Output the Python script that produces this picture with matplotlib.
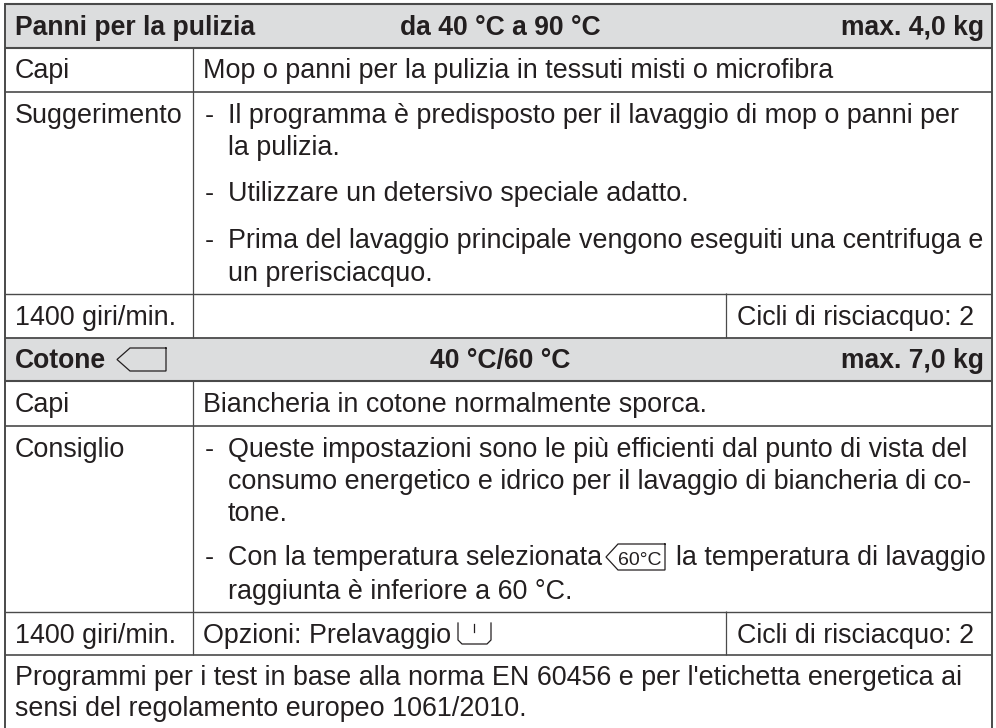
import matplotlib
matplotlib.use('Agg')
import matplotlib.pyplot as plt
from matplotlib.patches import Rectangle

W, H = 996, 728
TX = 15
TC1 = 203
TC2 = 228

# testi della tabella: (y baseline, testo)
header_rows = [
    (35, 'Panni per la pulizia', 'da 40 °C a 90 °C', 'max. 4,0 kg'),
    (368, 'Cotone', '40 °C/60 °C', 'max. 7,0 kg'),
]
body_left = [
    (78, 'Capi'), (123, 'Suggerimento'), (325, '1400 giri/min.'),
    (412, 'Capi'), (457, 'Consiglio'), (643, '1400 giri/min.'),
]
body_dash = [123, 201, 248, 457, 565]
body_right = [
    (TC1, 78, 'Mop o panni per la pulizia in tessuti misti o microfibra'),
    (TC2, 123, 'Il programma è predisposto per il lavaggio di mop o panni per'),
    (TC2, 155, 'la pulizia.'),
    (TC2, 201, 'Utilizzare un detersivo speciale adatto.'),
    (TC2, 248, 'Prima del lavaggio principale vengono eseguiti una centrifuga e'),
    (TC2, 281, 'un prerisciacquo.'),
    (TC1, 412, 'Biancheria in cotone normalmente sporca.'),
    (TC2, 457, 'Queste impostazioni sono le più efficienti dal punto di vista del'),
    (TC2, 489, 'consumo energetico e idrico per il lavaggio di biancheria di co-'),
    (TC2, 521, 'tone.'),
    (TC2, 565, 'Con la temperatura selezionata'),
    (676, 565, 'la temperatura di lavaggio'),
    (TC2, 599, 'raggiunta è inferiore a 60 °C.'),
    (TC1, 643, 'Opzioni: Prelavaggio'),
    (TX, 685, "Programmi per i test in base alla norma EN 60456 e per l'etichetta energetica ai"),
    (TX, 716, 'sensi del regolamento europeo 1061/2010.'),
]
cicli = [(325, 'Cicli di risciacquo: 2'), (643, 'Cicli di risciacquo: 2')]

plt.rcParams['font.family'] = ['Liberation Sans', 'DejaVu Sans']
fig = plt.figure(figsize=(W / 100, H / 100), dpi=100)
ax = fig.add_axes([0, 0, 1, 1])
ax.set_xlim(0, W)
ax.set_ylim(H, 0)
ax.axis('off')

LINE = '#4a4a4a'
ink = '#231f20'
FS = 19.4
FSB = 19.1

# sfondi delle intestazioni
ax.add_patch(Rectangle((5, 3.5), 987, 44, fc='#dcddde', ec='none'))
ax.add_patch(Rectangle((5, 338), 987, 43, fc='#dcddde', ec='none'))

# righe orizzontali e verticali
for y, lw in [(3.5, 1.5), (47.5, 1.5), (91.5, 1.2), (293.5, 1.0), (338, 1.3), (381, 1.5),
              (426, 1.2), (611.5, 1.0), (655, 1.2)]:
    ax.plot([5, 992], [y, y], color=LINE, lw=lw, solid_capstyle='butt')
for x in [5, 992]:
    ax.plot([x, x], [3, 728], color=LINE, lw=1.4, solid_capstyle='butt')
for y0, y1 in [(47, 338), (381, 655)]:
    ax.plot([192.5, 192.5], [y0, y1], color=LINE, lw=0.9, solid_capstyle='butt')
for y0, y1 in [(293, 338), (611, 655)]:
    ax.plot([725.5, 725.5], [y0, y1], color=LINE, lw=0.9, solid_capstyle='butt')

for y, a, b, c in header_rows:
    ax.text(TX, y, a, fontsize=FSB, fontweight='bold', color=ink, va='baseline')
    ax.text(500, y, b, fontsize=FSB, fontweight='bold', color=ink, va='baseline', ha='center')
    ax.text(984, y, c, fontsize=FSB, fontweight='bold', color=ink, va='baseline', ha='right')
for y, s in body_left:
    ax.text(TX, y, s, fontsize=FS, color=ink, va='baseline')
for y in body_dash:
    ax.text(205, y, '-', fontsize=FS, color=ink, va='baseline')
for x, y, s in body_right:
    ax.text(x, y, s, fontsize=FS, color=ink, va='baseline')
for y, s in cicli:
    ax.text(737, y, s, fontsize=FS, color=ink, va='baseline')

# simboli disegnati
def tag(x0, y0, x1, y1, notch):
    ax.plot([x1, x0 + notch, x0, x0 + notch, x1, x1], [y0, y0, (y0 + y1) / 2, y1, y1, y0],
            color=ink, lw=0.9, solid_joinstyle='miter')

tag(117, 348, 166, 371, 13)
tag(606, 544, 665, 570, 12)
ax.text(618, 565, '60°C', fontsize=14, color=ink, va='baseline')
ax.plot([458, 458, 462, 487, 491, 491], [623, 640, 644, 644, 640, 623], color=ink, lw=0.9)
ax.plot([474, 474], [624, 632], color=ink, lw=0.9)

fig.savefig('out.png', dpi=100)
